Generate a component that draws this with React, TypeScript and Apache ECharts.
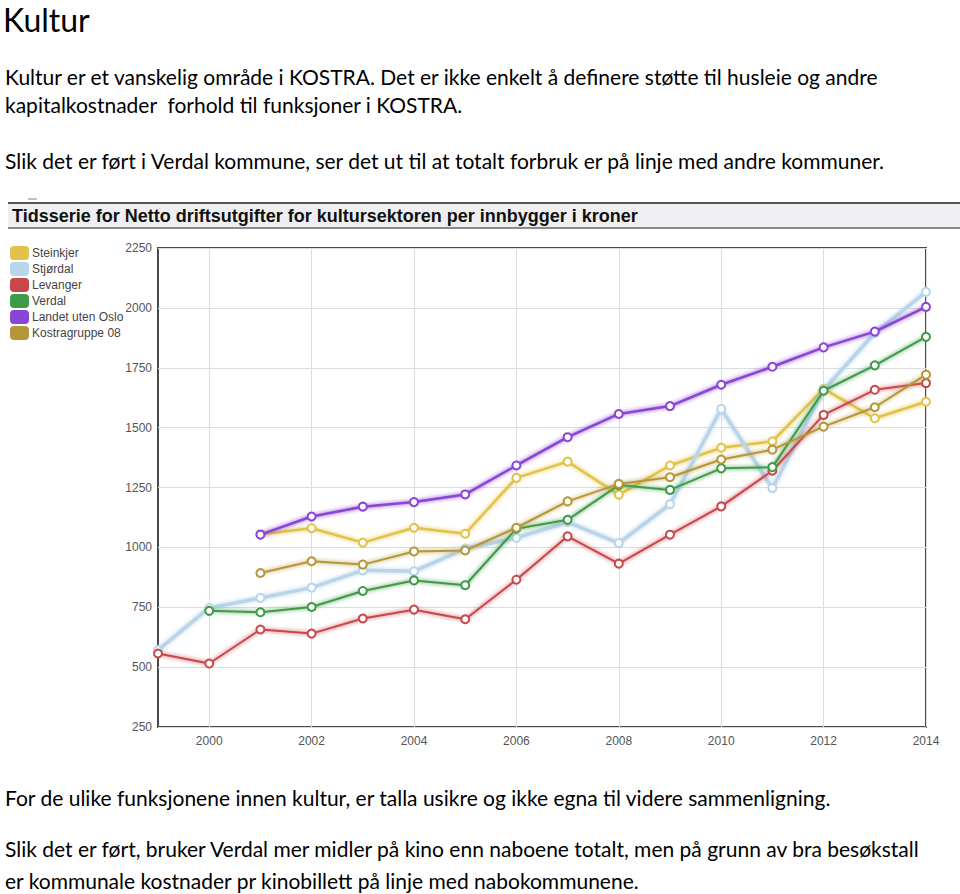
import React, { useEffect, useRef } from "react";
import * as echarts from "echarts";

const years = ["1999", "2000", "2001", "2002", "2003", "2004", "2005", "2006", "2007", "2008", "2009", "2010", "2011", "2012", "2013", "2014"];
const seriesNames = ["Steinkjer", "Stjørdal", "Levanger", "Verdal", "Landet uten Oslo", "Kostragruppe 08"];
const seriesColors = ["#e2c24a", "#b9d5ea", "#c8474b", "#3f9a48", "#8a45d6", "#b5973a"];
const steinkjer = [null, null, 1055, 1080, 1020, 1082, 1057, 1290, 1358, 1220, 1342, 1416, 1443, 1662, 1539, 1608];
const stjordal = [571, 747, 789, 832, 904, 900, 995, 1040, 1105, 1018, 1180, 1578, 1247, 1657, 1895, 2067];
const levanger = [557, 515, 657, 640, 703, 740, 700, 865, 1046, 932, 1053, 1171, 1320, 1553, 1658, 1686];
const verdal = [null, 735, 729, 751, 818, 862, 842, 1078, 1115, 1260, 1240, 1330, 1335, 1654, 1760, 1879];
const landet = [null, null, 1053, 1129, 1170, 1189, 1221, 1342, 1460, 1557, 1590, 1679, 1754, 1835, 1901, 2004];
const kostra = [null, null, 893, 942, 928, 983, 987, 1082, 1192, 1265, 1293, 1367, 1408, 1504, 1585, 1721];
const seriesValues = [steinkjer, stjordal, levanger, verdal, landet, kostra];
const lineWidths = [2.5, 3.5, 2, 2, 2.5, 2];

const chartTitle = "Tidsserie for Netto driftsutgifter for kultursektoren per innbygger i kroner";
const heading = "Kultur";
const topLines = [
  "Kultur er et vanskelig område i KOSTRA. Det er ikke enkelt å definere støtte til husleie og andre",
  "kapitalkostnader  forhold til funksjoner i KOSTRA.",
  "Slik det er ført i Verdal kommune, ser det ut til at totalt forbruk er på linje med andre kommuner.",
];
const bottomLines = [
  "For de ulike funksjonene innen kultur, er talla usikre og ikke egna til videre sammenligning.",
  "Slik det er ført, bruker Verdal mer midler på kino enn naboene totalt, men på grunn av bra besøkstall",
  "er kommunale kostnader pr kinobillett på linje med nabokommunene.",
];

const bodyFont = "Lato, 'Open Sans', sans-serif";

function Chart() {
  const ref = useRef<HTMLDivElement>(null);
  useEffect(() => {
    if (!ref.current) return;
    const chart = echarts.init(ref.current, null, { renderer: "svg" });
    const axisFont = { fontFamily: "'Liberation Sans', Arial, sans-serif", fontSize: 12, color: "#555" };
    chart.setOption({
      animation: false,
      backgroundColor: "#fff",
      grid: { left: 158, right: 34, top: 58, bottom: 33, show: true, borderColor: "#4a4a4a", borderWidth: 2, backgroundColor: "#fff" },
      legend: {
        orient: "vertical",
        left: 10,
        top: 56,
        icon: "roundRect",
        itemWidth: 17,
        itemHeight: 12,
        itemGap: 2,
        padding: 0,
        textStyle: { fontFamily: "'Liberation Sans', Arial, sans-serif", fontSize: 12, color: "#444", padding: [0, 0, 0, -1] },
        data: seriesNames,
      },
      graphic: [
        { type: "rect", shape: { x: 8, y: 13, width: 952, height: 25 }, style: { fill: "#efeff1" } },
        { type: "line", shape: { x1: 8, y1: 13, x2: 960, y2: 13 }, style: { stroke: "#555", lineWidth: 2 } },
        { type: "line", shape: { x1: 8, y1: 38, x2: 960, y2: 38 }, style: { stroke: "#666", lineWidth: 1.5 } },
        { type: "line", shape: { x1: 28, y1: 9, x2: 37, y2: 9 }, style: { stroke: "#aaa", lineWidth: 1.5 } },
        {
          type: "text",
          x: 12,
          y: 26,
          style: { text: chartTitle, fontFamily: "'Liberation Sans', Arial, sans-serif", fontWeight: "bold", fontSize: 18, fill: "#111", verticalAlign: "middle" },
        },
      ],
      xAxis: {
        type: "category",
        data: years,
        boundaryGap: false,
        axisLine: { show: false },
        axisTick: { show: false },
        axisLabel: { ...axisFont, margin: 8, interval: (i: number) => i % 2 === 1 },
        splitLine: { show: true, interval: (i: number) => i % 2 === 1, lineStyle: { color: "#dcdcdc", width: 1 } },
      },
      yAxis: {
        type: "value",
        min: 250,
        max: 2250,
        interval: 250,
        axisLine: { show: false },
        axisTick: { show: false },
        axisLabel: { ...axisFont, margin: 6, formatter: (v: number) => String(v) },
        splitLine: { lineStyle: { color: "#dcdcdc", width: 1 } },
      },
      series: seriesNames.map((name, i) => ({
        name,
        type: "line",
        data: seriesValues[i],
        connectNulls: false,
        symbol: "emptyCircle",
        symbolSize: 8,
        z: i === 4 ? 5 : 2 + i * 0.1,
        lineStyle: { color: seriesColors[i], width: lineWidths[i], shadowColor: seriesColors[i], shadowBlur: 4 },
        itemStyle: { color: seriesColors[i], borderColor: seriesColors[i], borderWidth: 2 },
      })),
    });
    return () => chart.dispose();
  }, []);
  return <div ref={ref} style={{ position: "absolute", left: 0, top: 190, width: 960, height: 570 }} />;
}

function Line({ text, top, size = 21 }: { text: string; top: number; size?: number }) {
  return (
    <div style={{ position: "absolute", left: 5, top, fontFamily: bodyFont, fontSize: size, lineHeight: `${size}px`, whiteSpace: "pre", color: "#000" }}>
      {text}
    </div>
  );
}

export default function App() {
  const topPos = [66, 94, 150];
  const bottomPos = [787, 838, 870];
  return (
    <div style={{ position: "absolute", left: 0, top: 0, width: 960, height: 894, background: "#fff", overflow: "hidden" }}>
      <div style={{ position: "absolute", left: 3, top: 0, fontFamily: bodyFont, fontSize: 32, lineHeight: "39px", color: "#000" }}>{heading}</div>
      {topLines.map((t, i) => (
        <Line key={"t" + i} text={t} top={topPos[i]} />
      ))}
      <Chart />
      {bottomLines.map((t, i) => (
        <Line key={"b" + i} text={t} top={bottomPos[i]} />
      ))}
    </div>
  );
}
